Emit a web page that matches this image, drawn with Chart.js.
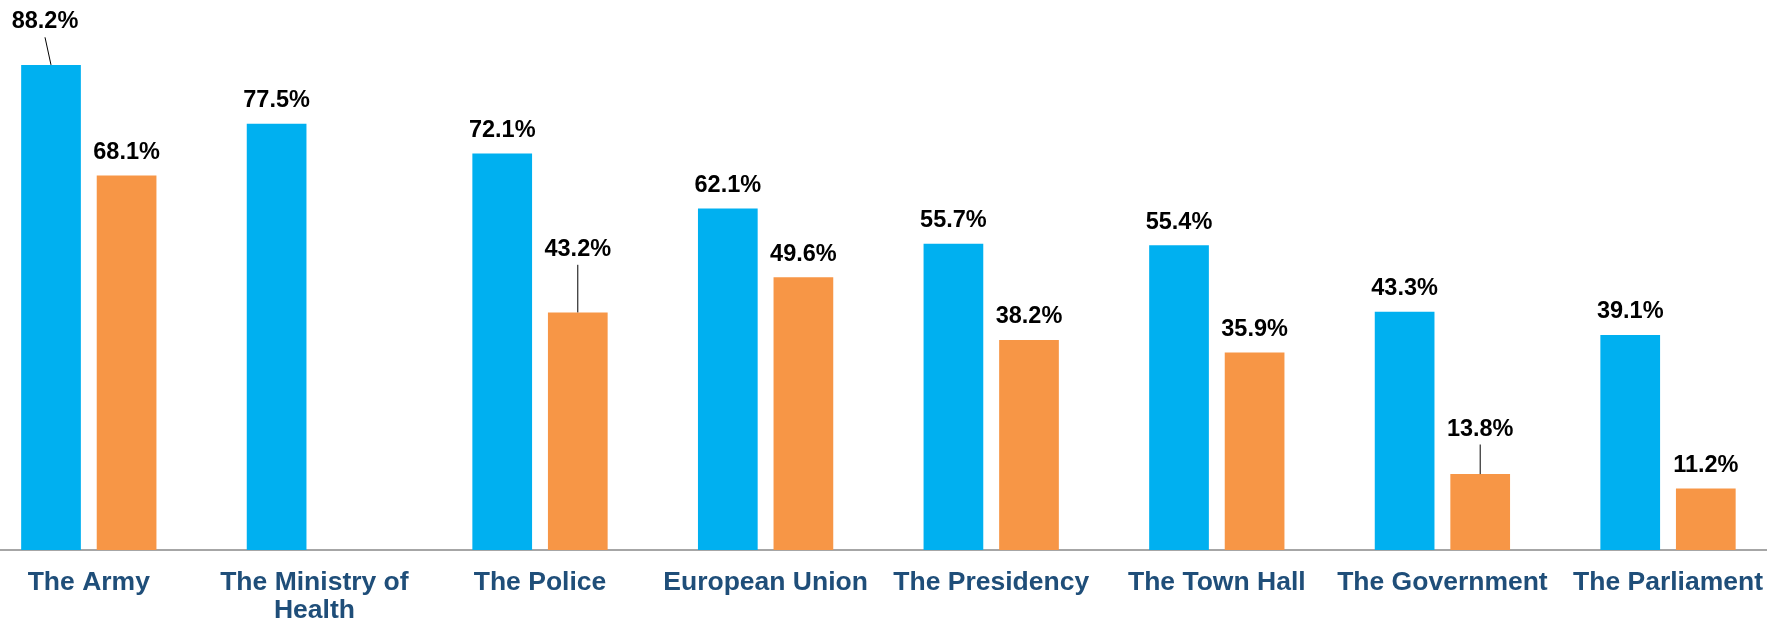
<!DOCTYPE html>
<html>
<head>
<meta charset="utf-8">
<script src="https://cdn.jsdelivr.net/npm/chart.js@4.4.1/dist/chart.umd.min.js"></script>
<style>
  html, body { margin: 0; padding: 0; background: #ffffff; overflow: hidden; }
  body { width: 1767px; height: 623px; position: relative; }
  #wrap { position: absolute; left: -24px; top: 0; width: 1806px; height: 623px; }
</style>
</head>
<body>
<div id="wrap"><canvas id="c" width="1806" height="623"></canvas></div>
<script>
const categories = [
  "The Army",
  ["The Ministry of", "Health"],
  "The Police",
  "European Union",
  "The Presidency",
  "The Town Hall",
  "The Government",
  "The Parliament"
];
const seriesBlue = [88.2, 77.5, 72.1, 62.1, 55.7, 55.4, 43.3, 39.1];
const seriesOrange = [68.1, null, 43.2, 49.6, 38.2, 35.9, 13.8, 11.2];

// label nudges (dataset index, point index) -> [dx, dy]; leader line drawn when nudged
const labelNudges = {
  "0-0": [-6, -20],
  "1-2": [0, -40],
  "1-6": [0, -22]
};

const valueLabels = {
  id: 'valueLabels',
  afterDatasetsDraw(chart) {
    const ctx = chart.ctx;
    ctx.save();
    ctx.font = 'bold 23.5px "Liberation Sans", Arial, sans-serif';
    ctx.fillStyle = '#000000';
    ctx.textAlign = 'center';
    ctx.textBaseline = 'alphabetic';
    chart.data.datasets.forEach((ds, di) => {
      const meta = chart.getDatasetMeta(di);
      meta.data.forEach((bar, i) => {
        const v = ds.data[i];
        if (v === null || v === undefined) return;
        const nudge = labelNudges[di + '-' + i];
        const dx = nudge ? nudge[0] : 0;
        const dy = nudge ? nudge[1] : 0;
        const tx = bar.x + dx;
        const ty = bar.y - 16.6 + dy;
        ctx.fillText(v.toFixed(1) + '%', tx, ty);
        if (nudge) {
          ctx.beginPath();
          ctx.strokeStyle = '#000000';
          ctx.lineWidth = 1;
          ctx.moveTo(tx, ty + 9);
          ctx.lineTo(bar.x, bar.y);
          ctx.stroke();
        }
      });
    });
    ctx.restore();
  }
};

new Chart(document.getElementById('c'), {
  type: 'bar',
  data: {
    labels: categories,
    datasets: [
      { data: seriesBlue, backgroundColor: '#00B0F0', borderWidth: 0 },
      { data: seriesOrange, backgroundColor: '#F79646', borderWidth: 0 }
    ]
  },
  options: {
    responsive: false,
    animation: false,
    devicePixelRatio: 1,
    categoryPercentage: 0.67,
    barPercentage: 0.79,
    layout: { padding: { top: 0, bottom: 0, left: 0, right: 0 } },
    plugins: {
      legend: { display: false },
      tooltip: { enabled: false }
    },
    scales: {
      x: {
        grid: { display: false, drawTicks: false },
        border: { display: true, color: '#A6A6A6', width: 2 },
        ticks: {
          padding: 19,
          color: '#1F4E79',
          font: { family: '"Liberation Sans", Arial, sans-serif', size: 26.5, weight: 'bold', lineHeight: 1.05 },
          maxRotation: 0,
          autoSkip: false
        },
        afterFit(scale) { scale.height = 73; }
      },
      y: {
        display: false,
        min: 0,
        max: 100
      }
    }
  },
  plugins: [valueLabels]
});
</script>
</body>
</html>
